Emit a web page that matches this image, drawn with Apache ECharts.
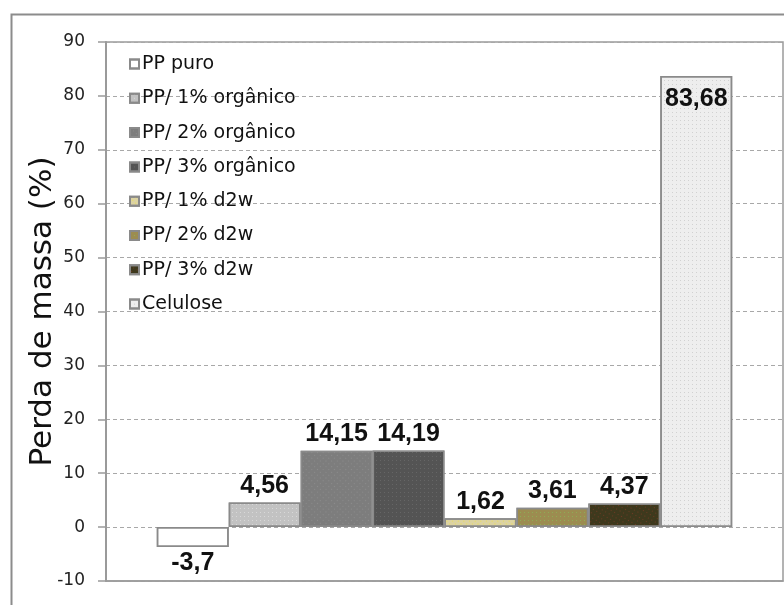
<!DOCTYPE html>
<html>
<head>
<meta charset="utf-8">
<title>Perda de massa</title>
<script src="https://cdn.jsdelivr.net/npm/echarts@6/dist/echarts.min.js"></script>
<style>
  html, body { margin: 0; padding: 0; background: #ffffff; }
  #chart { width: 784px; height: 605px; }
</style>
</head>
<body>
<div id="chart"></div>
<script>
// Single category, one bar per sample
const categories = [''];
const sampleNames = [
  'PP puro',
  'PP/ 1% orgânico',
  'PP/ 2% orgânico',
  'PP/ 3% orgânico',
  'PP/ 1% d2w',
  'PP/ 2% d2w',
  'PP/ 3% d2w',
  'Celulose'
];
const massLoss = [-3.7, 4.56, 14.15, 14.19, 1.62, 3.61, 4.37, 83.68];
const yMin = -10;
const yMax = 90;
const yStep = 10;

// Fill colours and fine dotted textures for each sample
const fillColors = ['#ffffff', '#c2c2c2', '#7d7d7d', '#545454', '#dcd3a2', '#9c8c50', '#3e391d', '#eeeeee'];
const dotColors = [
  'rgba(255,255,255,0)',
  'rgba(235,235,235,0.55)',
  'rgba(150,150,150,0.6)',
  'rgba(110,110,110,0.7)',
  'rgba(240,225,60,0.8)',
  'rgba(130,200,90,0.55)',
  'rgba(150,60,40,0.55)',
  'rgba(185,185,185,0.55)'
];

function formatValue(v) {
  return String(v).replace('.', ',');
}

function labelPosition(v) {
  if (v < 0) return 'bottom';
  if (v > yMax - 10) return 'insideTop';
  return 'top';
}

const series = sampleNames.map((name, i) => ({
  name: name,
  type: 'bar',
  data: [massLoss[i]],
  barGap: '0%',
  barCategoryGap: '15%',
  itemStyle: {
    color: fillColors[i],
    borderColor: '#8a8a8a',
    borderWidth: 1.5,
    decal: {
      symbol: 'rect',
      symbolSize: 1,
      dashArrayX: [1, 3],
      dashArrayY: [1, 3],
      color: dotColors[i]
    }
  },
  label: {
    show: true,
    position: labelPosition(massLoss[i]),
    distance: labelPosition(massLoss[i]) === 'insideTop' ? 11 : 4,
    formatter: p => formatValue(p.value),
    fontFamily: '"Liberation Sans", Arial, sans-serif',
    fontWeight: 'bold',
    fontSize: 25,
    color: '#111111'
  },
  emphasis: { disabled: true }
}));

const chart = echarts.init(document.getElementById('chart'), null, { renderer: 'canvas' });

chart.setOption({
  animation: false,
  backgroundColor: '#ffffff',
  aria: { enabled: true, decal: { show: true } },
  graphic: [
    {
      type: 'rect',
      left: 9,
      top: 12,
      shape: { width: 820, height: 640 },
      style: { fill: 'none', stroke: '#8c8c8c', lineWidth: 2 },
      silent: true,
      z: -1
    }
  ],
  grid: {
    left: 106,
    right: 1,
    top: 42,
    bottom: 24,
    show: true,
    borderColor: '#9a9a9a',
    borderWidth: 1.5,
    containLabel: false
  },
  legend: {
    orient: 'vertical',
    left: 124,
    top: 49,
    itemWidth: 9,
    itemHeight: 9,
    itemGap: 14.3,
    icon: 'rect',
    textStyle: {
      fontFamily: '"DejaVu Sans", sans-serif',
      fontSize: 19,
      lineHeight: 20,
      color: '#111111',
      padding: [0, 0, 0, -2]
    },
    data: sampleNames
  },
  xAxis: {
    type: 'category',
    data: categories,
    axisLine: { onZero: false, lineStyle: { color: '#9a9a9a', width: 1.5 } },
    axisTick: { show: false },
    axisLabel: { show: false },
    splitLine: { show: false }
  },
  yAxis: {
    type: 'value',
    min: yMin,
    max: yMax,
    interval: yStep,
    name: 'Perda de massa (%)',
    nameLocation: 'middle',
    nameRotate: 90,
    nameGap: 48,
    nameMoveOverlap: false,
    nameTextStyle: {
      fontFamily: '"DejaVu Sans", sans-serif',
      fontSize: 31,
      color: '#111111'
    },
    axisLine: { show: true, lineStyle: { color: '#9a9a9a', width: 2 } },
    axisTick: { show: true, inside: false, length: 8, lineStyle: { color: '#9a9a9a', width: 1.5 } },
    axisLabel: {
      margin: 21,
      fontFamily: '"DejaVu Sans", sans-serif',
      fontSize: 17,
      color: '#222222'
    },
    splitLine: {
      show: true,
      lineStyle: { color: '#a8a8a8', width: 1, type: [4, 3] }
    }
  },
  series: series
});
</script>
</body>
</html>
